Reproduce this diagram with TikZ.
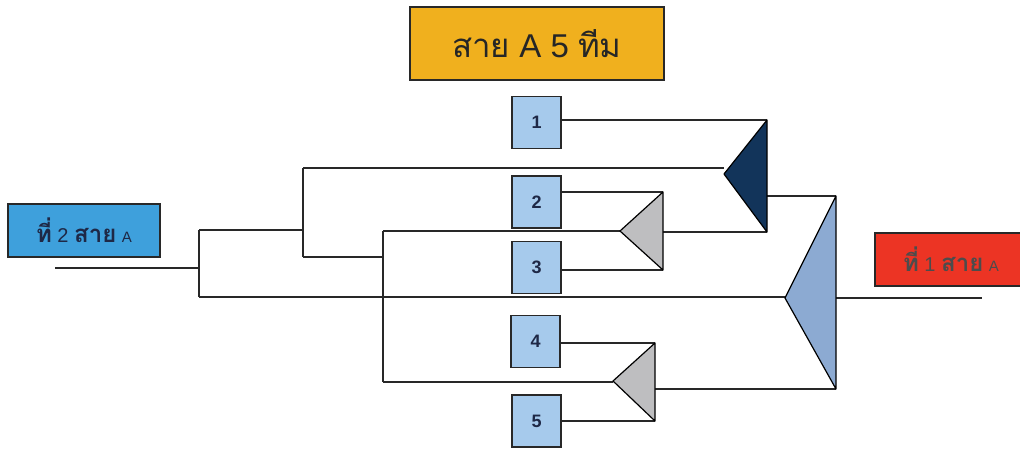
\documentclass[tikz,border=0pt]{standalone}
\usepackage{fontspec}
\setmainfont{Liberation Sans}
\newfontfamily\thaifont[Script=Thai]{Loma}
\definecolor{titleorange}{RGB}{240,176,30}
\definecolor{secondblue}{RGB}{62,160,220}
\definecolor{firstred}{RGB}{236,52,36}
\definecolor{teamblue}{RGB}{166,202,236}
\definecolor{darknavy}{RGB}{18,52,90}
\definecolor{matchgrey}{RGB}{190,190,192}
\definecolor{finalblue}{RGB}{140,170,210}
\definecolor{inkline}{RGB}{40,40,40}
\definecolor{numtext}{RGB}{30,40,70}
\newcommand{\placetext}[1]{{\fontsize{24}{24}\selectfont\thaifont\bfseries ที่} #1 {\fontsize{24}{24}\selectfont\thaifont\bfseries สาย} {\fontsize{15}{15}\selectfont A}}
\begin{document}
\begin{tikzpicture}[
x=1pt, y=-1pt,
teambox/.style={draw=inkline, fill=teamblue, line width=1.5pt, minimum width=49pt, minimum height=52pt, inner sep=0pt, text=numtext, font=\bfseries\fontsize{18}{18}\selectfont},
placebox/.style={draw=inkline, line width=1.4pt, minimum width=152pt, minimum height=53pt, inner sep=0pt, font=\fontsize{20}{20}\selectfont},
titlebox/.style={draw=inkline, fill=titleorange, line width=1.4pt, minimum width=254pt, minimum height=73pt, inner sep=0pt, text=black!85, font=\fontsize{33}{33}\selectfont},
bracket/.style={draw=inkline, line width=1.2pt},
matchtri/.style={draw=black, line width=1.2pt, line join=round}
]
\useasboundingbox (0,0) rectangle (1020,448);
% labels
\node[titlebox] (title) at (537,43.5) {{\thaifont สาย} A 5 {\thaifont ทีม}};
\node[placebox, fill=secondblue, text=numtext] (second) at (84,230.5) {\placetext{2}};
\node[placebox, fill=firstred, text=black!70] (first) at (951,259.5) {\placetext{1}};
% teams
\node[teambox] (t1) at (536.5,122.5) {1};
\node[teambox] (t2) at (536.5,202) {2};
\node[teambox] (t3) at (536.5,267.5) {3};
\node[teambox] (t4) at (535.5,341.5) {4};
\node[teambox] (t5) at (536.5,421) {5};
% match corners
\coordinate (m1top) at (767,120);
\coordinate (m1bot) at (767,232);
\coordinate (m1tip) at (724,174);
\coordinate (m2top) at (663,192);
\coordinate (m2bot) at (663,270);
\coordinate (m2tip) at (620,231);
\coordinate (m3top) at (655,343);
\coordinate (m3bot) at (655,421);
\coordinate (m3tip) at (613,381);
\coordinate (fintop) at (836,196);
\coordinate (finbot) at (836,389);
\coordinate (fintip) at (785,298);
% bracket joints
\coordinate (in) at (55,268);
\coordinate (j1a) at (199,230);
\coordinate (j1b) at (199,297);
\coordinate (j2a) at (303,168);
\coordinate (j2b) at (303,257);
\coordinate (j3a) at (383,231);
\coordinate (j3b) at (383,382);
\coordinate (out) at (982,298);
% lines
\draw[bracket] (in) -- (j1a |- in);
\draw[bracket] (j1a) -- (j1b);
\draw[bracket] (j1a) -- (j2a |- j1a);
\draw[bracket] (j2a) -- (j2b);
\draw[bracket] (j2a) -- (j2a -| m1tip);
\draw[bracket] (j2b) -- (j3a |- j2b);
\draw[bracket] (j3a) -- (j3b);
\draw[bracket] (j3a) -- (j3a -| m2tip);
\draw[bracket] (j3b) -- (j3b -| m3tip);
\draw[bracket] (j1b) -- (j1b -| fintip);
\draw[bracket] (t1.east |- m1top) -- (m1top);
\draw[bracket] (t2.east |- m2top) -- (m2top);
\draw[bracket] (t3.east |- m2bot) -- (m2bot);
\draw[bracket] (t4.east |- m3top) -- (m3top);
\draw[bracket] (t5.east |- m3bot) -- (m3bot);
\draw[bracket] (m2top |- m1bot) -- (m1bot);
\draw[bracket] (m1top |- fintop) -- (fintop);
\draw[bracket] (m3top |- finbot) -- (finbot);
\draw[bracket] (fintop |- out) -- (out);
% triangles
\filldraw[matchtri, fill=darknavy] (m1top) -- (m1tip) -- (m1bot) -- cycle;
\filldraw[matchtri, fill=matchgrey] (m2top) -- (m2tip) -- (m2bot) -- cycle;
\filldraw[matchtri, fill=matchgrey] (m3top) -- (m3tip) -- (m3bot) -- cycle;
\filldraw[matchtri, fill=finalblue] (fintop) -- (fintip) -- (finbot) -- cycle;
\end{tikzpicture}
\end{document}
